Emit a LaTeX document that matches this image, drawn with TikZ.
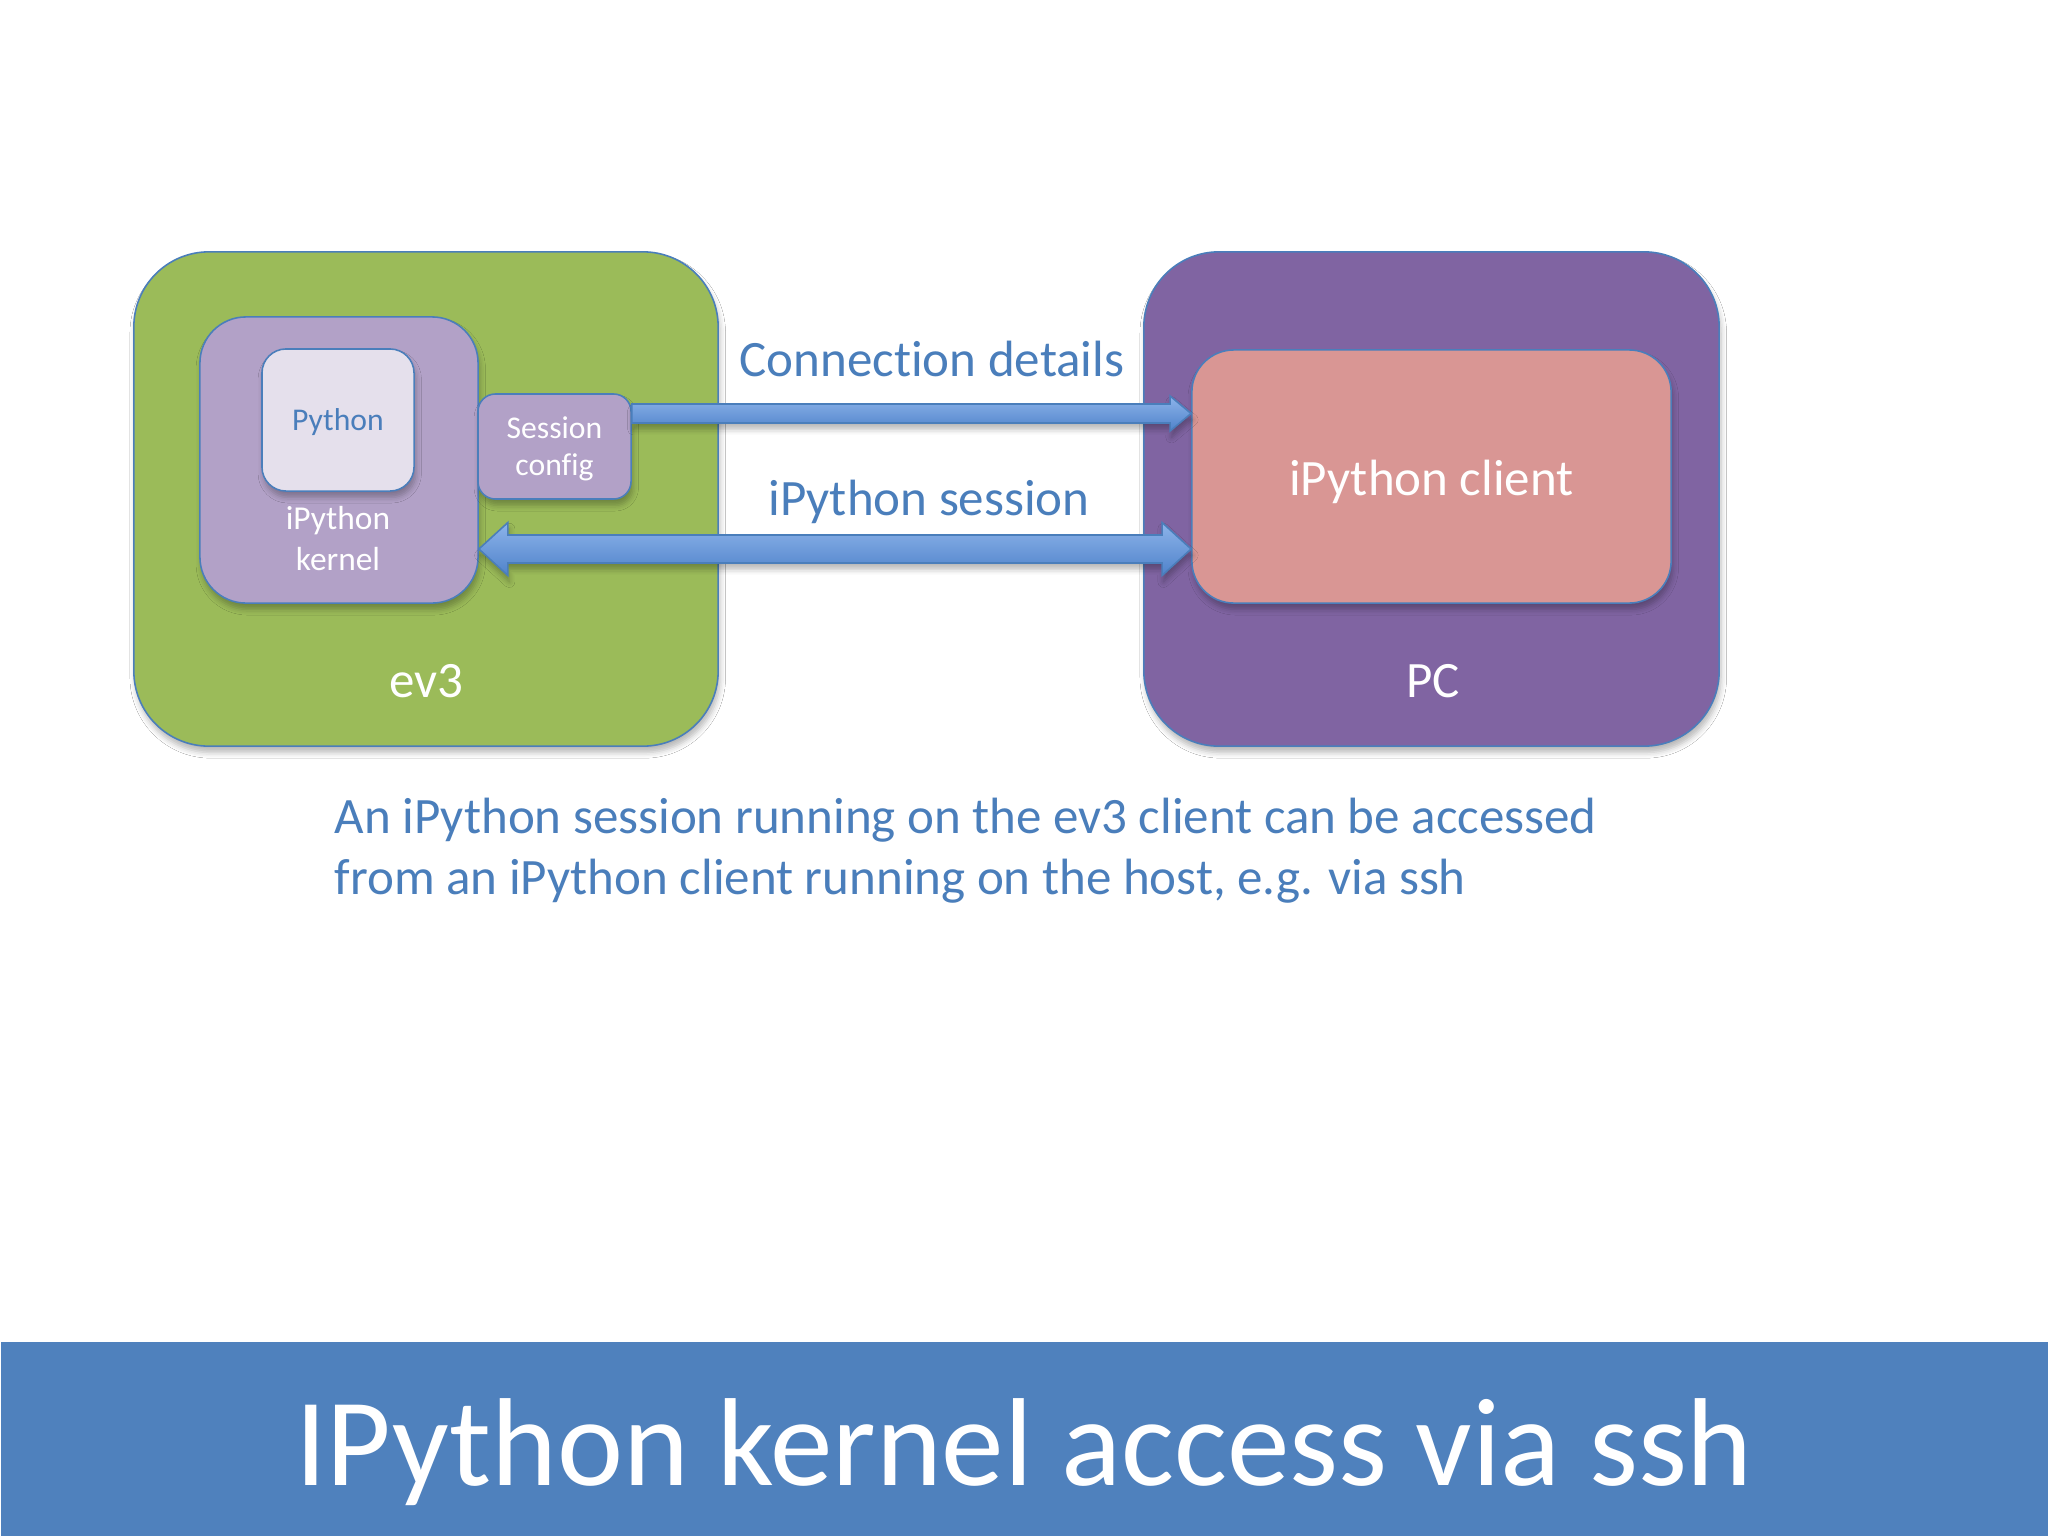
\documentclass[tikz,border=0pt]{standalone}
\usepackage{fontspec}
\setmainfont{Carlito}[Ligatures={NoCommon}]
\usetikzlibrary{calc,shadows.blur}
\definecolor{evgreen}{HTML}{9BBB59}
\definecolor{pcpurple}{HTML}{8064A2}
\definecolor{lilac}{HTML}{B2A1C7}
\definecolor{palelilac}{HTML}{E5E0EC}
\definecolor{rose}{HTML}{D99694}
\definecolor{edgeblue}{HTML}{4A7EBB}
\definecolor{txtblue}{HTML}{4A7EBB}
\definecolor{bannerblue}{HTML}{4F81BD}
\definecolor{arrowtop}{HTML}{8DB4EA}
\definecolor{arrowbot}{HTML}{4F82CA}
\begin{document}
\begin{tikzpicture}[x=0.01cm,y=-0.01cm,
  box/.style={draw=edgeblue, line width=0.45pt, inner sep=0pt,
    blur shadow={shadow xshift=0.5pt, shadow yshift=-1.8pt, shadow blur radius=1.6pt, shadow opacity=28}},
  fatarrow/.style={draw=edgeblue, line width=0.45pt, top color=arrowtop, bottom color=arrowbot,
    blur shadow={shadow xshift=0.4pt, shadow yshift=-1.8pt, shadow blur radius=1.6pt, shadow opacity=28}},
  biglbl/.style={inner sep=0pt, anchor=base, font=\fontsize{14.5}{17}\selectfont},
  smalllbl/.style={inner sep=0pt, anchor=base, font=\fontsize{9}{11}\selectfont},
  midlbl/.style={inner sep=0pt, anchor=base, font=\fontsize{9.5}{11}\selectfont}]
\useasboundingbox (0,0) rectangle (2048,1536);
\fill[white] (0,0) rectangle (2048,1536);

% banner
\node[fill=bannerblue, minimum width=204.8mm, minimum height=19.5mm, inner sep=0pt, anchor=north west] (banner) at (0,1341) {};
\node[inner sep=0pt, anchor=base, text=white, font=\fontsize{35.6}{40}\selectfont] (title) at (1024,1485) {IPython kernel access via ssh};

% containers
\node[box, fill=evgreen, rounded corners=7.5mm, minimum width=58.4mm, minimum height=49.4mm] (ev3) at (426,499) {};
\node[box, fill=pcpurple, rounded corners=7.5mm, minimum width=57.5mm, minimum height=49.4mm] (pc) at (1431.5,499) {};

\node[box, fill=lilac, rounded corners=4.6mm, minimum width=27.8mm, minimum height=28.6mm] (kernel) at (339,460) {};
\node[box, fill=palelilac, rounded corners=2.4mm, minimum width=15.2mm, minimum height=14.2mm] (python) at (338,420) {};
\node[box, fill=lilac, rounded corners=1.75mm, minimum width=15.3mm, minimum height=10.5mm] (cfg) at (554.5,446.5) {};
\node[box, fill=rose, rounded corners=4.2mm, minimum width=47.9mm, minimum height=25.3mm] (client) at (1431.5,476.5) {};

% connection details arrow
\coordinate (c1) at ($(cfg.east)+(0,-33)$);
\coordinate (c2) at (client.west |- c1);
\filldraw[fatarrow] ($(c1)+(0,-9.5)$) -- ($(c2)+(-21,-9.5)$) -- ++(0,-8) -- (c2) -- ++(-21,17.5) -- ++(0,-8) -- ($(c1)+(0,9.5)$) -- cycle;

% session double arrow
\coordinate (s1) at ($(kernel.east)+(0,89)$);
\coordinate (s2) at (client.west |- s1);
\filldraw[fatarrow] (s1) -- ++(29,-26.5) -- ++(0,12.5) -- ($(s2)+(-29,-14)$) -- ++(0,-12.5) -- (s2) -- ++(-29,26.5) -- ++(0,-12.5) -- ($(s1)+(29,14)$) -- ++(0,12.5) -- cycle;

% labels
\node[biglbl, text=txtblue] (lconn) at (932,376) {Connection details};
\node[biglbl, text=txtblue] (lsess) at (929,515) {iPython session};
\node[biglbl, text=white] (lclient) at (1431.5,495) {iPython client};
\node[biglbl, text=white] (lev3) at (426,697) {ev3};
\node[biglbl, text=white] (lpc) at (1433,697) {PC};

\node[smalllbl, text=txtblue] (lpython) at (338,430) {Python};
\node[midlbl, text=white] (lk1) at (338,529) {iPython};
\node[midlbl, text=white] (lk2) at (338,570) {kernel};
\node[smalllbl, text=white] (lc1) at (554.5,438) {Session};
\node[smalllbl, text=white] (lc2) at (554.5,475) {config};

% caption
\node[biglbl, anchor=base west, text=txtblue] (cap1) at (334,833) {An iPython session running on the ev3 client can be accessed};
\node[biglbl, anchor=base west, text=txtblue] (cap2) at (334,894) {from an iPython client running on the host, e.g. via ssh};
\end{tikzpicture}
\end{document}
